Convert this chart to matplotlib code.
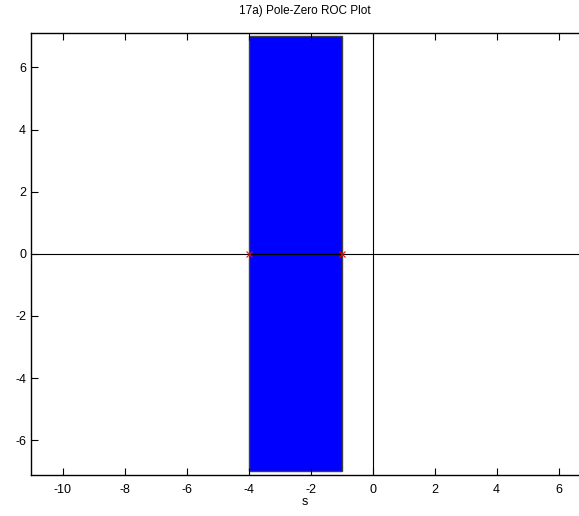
import numpy as np
import matplotlib.pyplot as plt
from matplotlib.patches import Rectangle

plt.rcParams['font.family'] = ['Liberation Sans', 'DejaVu Sans']
plt.rcParams['axes.unicode_minus'] = False

poles = [-4, -1]
roc_left = -4
roc_right = -1
roc_height = 7
xticks = [-10, -8, -6, -4, -2, 0, 2, 4, 6]
yticks = [-6, -4, -2, 0, 2, 4, 6]

fig = plt.figure(figsize=(5.79, 5.16), dpi=100)
ax = fig.add_axes([31/579, 41.3/516, 548/579, 441.7/516])

ax.add_patch(Rectangle((roc_left, -roc_height), roc_right - roc_left, 2*roc_height,
                       facecolor='#0000ff', edgecolor='#404040', linewidth=1, zorder=1))
ax.axhline(0, color='black', linewidth=0.8, zorder=2)
ax.axvline(0, color='black', linewidth=0.8, zorder=2)
ax.plot(poles, [0]*len(poles), 'x', color='red', markersize=5, markeredgewidth=0.8, zorder=3)

ax.set_xlim(-11.02, 6.66)
ax.set_ylim(-7.11, 7.11)
ax.set_xticks(xticks)
ax.set_yticks(yticks)
ax.tick_params(direction='in', length=5, top=True, right=False, labelsize=9, width=0.8)
ax.tick_params(axis='x', pad=7)
ax.spines['right'].set_visible(False)
for s in ['left', 'bottom', 'top']:
    ax.spines[s].set_linewidth(1)
ax.set_title('17a) Pole-Zero ROC Plot', fontsize=8.5, pad=14)
ax.set_xlabel('s', fontsize=9, labelpad=0)

fig.savefig('out.png', dpi=100)
